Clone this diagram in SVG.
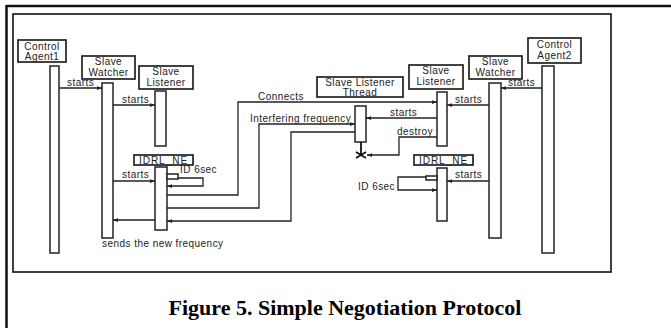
<svg xmlns="http://www.w3.org/2000/svg" width="671" height="328" viewBox="0 0 671 328">
  <style>
    .frame { fill: none; stroke: #111; }
    .box { fill: #fff; stroke: #222; stroke-width: 1.7; }
    .bar { fill: #fff; stroke: #222; stroke-width: 1.5; }
    .msg { fill: none; stroke: #222; stroke-width: 1.3; }
    .lbl { font-family: "Liberation Sans", Arial, sans-serif; font-size: 10px; letter-spacing: 0.45px; fill: #222; }
    .mid { text-anchor: middle; }
    .cap { font-family: "Liberation Serif", "Times New Roman", serif; font-size: 22px; font-weight: bold; fill: #000; text-anchor: middle; }
  </style>
  <defs>
    <marker id="arr" viewBox="0 0 8 6" refX="8" refY="3" markerWidth="5" markerHeight="4" orient="auto" markerUnits="userSpaceOnUse">
      <path d="M0,0 L8,3 L0,6 Z" fill="#222"/>
    </marker>
  </defs>

  <rect width="671" height="328" fill="#fff"/>

  <!-- page frame -->
  <path class="frame" d="M6.5,6 H671 M6.5,5 V328" stroke-width="2.5"/>
  <rect class="frame" x="13" y="14" width="598" height="258" stroke-width="1.6" stroke="#333"/>

  <!-- lifelines -->
  <g id="control-agent1">
    <rect class="box" x="18" y="40" width="48" height="22"/>
    <text class="lbl mid" x="42" y="50">Control</text>
    <text class="lbl mid" x="42" y="60">Agent1</text>
    <rect class="bar" x="50" y="66" width="9" height="187"/>
  </g>

  <g id="slave-watcher1">
    <rect class="box" x="82" y="56" width="53" height="23"/>
    <text class="lbl mid" x="108.5" y="65">Slave</text>
    <text class="lbl mid" x="108.5" y="76">Watcher</text>
    <rect class="bar" x="102" y="83" width="11" height="155"/>
  </g>

  <g id="slave-listener1">
    <rect class="box" x="139" y="66" width="54" height="23"/>
    <text class="lbl mid" x="166" y="75">Slave</text>
    <text class="lbl mid" x="166" y="86">Listener</text>
    <rect class="bar" x="155" y="91" width="11" height="55"/>
  </g>

  <g id="idrl-ne1">
    <rect class="box" x="134" y="155" width="59" height="10" stroke-width="1.5"/>
    <text class="lbl mid" x="163.5" y="164" style="letter-spacing:1px">IDRL_NE</text>
    <rect class="bar" x="155" y="167" width="12" height="63"/>
    <rect class="bar" x="167" y="174" width="11" height="5" stroke-width="1.2"/>
  </g>

  <g id="slave-listener-thread">
    <rect class="box" x="317" y="77" width="86" height="20"/>
    <text class="lbl mid" x="360" y="86">Slave Listener</text>
    <text class="lbl mid" x="360" y="95.5">Thread</text>
    <rect class="bar" x="355" y="106" width="11" height="36"/>
    <path d="M361,142 V155 M356,152 L366,158 M356,158 L366,152" fill="none" stroke="#111" stroke-width="1.8"/>
  </g>

  <g id="slave-listener2">
    <rect class="box" x="409" y="65" width="54" height="24"/>
    <text class="lbl mid" x="436" y="74">Slave</text>
    <text class="lbl mid" x="436" y="85">Listener</text>
    <rect class="bar" x="437" y="92" width="10" height="54"/>
  </g>

  <g id="idrl-ne2">
    <rect class="box" x="414" y="155" width="59" height="10" stroke-width="1.5"/>
    <text class="lbl mid" x="443.5" y="164" style="letter-spacing:1px">IDRL_NE</text>
    <rect class="bar" x="437" y="168" width="10" height="53"/>
    <rect class="bar" x="426" y="176" width="11" height="4" stroke-width="1.2"/>
  </g>

  <g id="slave-watcher2">
    <rect class="box" x="469" y="56" width="53" height="23"/>
    <text class="lbl mid" x="495.5" y="65">Slave</text>
    <text class="lbl mid" x="495.5" y="76">Watcher</text>
    <rect class="bar" x="489" y="83" width="12" height="155"/>
  </g>

  <g id="control-agent2">
    <rect class="box" x="528" y="38" width="53" height="25"/>
    <text class="lbl mid" x="554.5" y="48">Control</text>
    <text class="lbl mid" x="554.5" y="59">Agent2</text>
    <rect class="bar" x="542" y="66" width="12" height="187"/>
  </g>

  <!-- messages -->
  <g id="connectors">
    <path class="msg" d="M59,88 H102" marker-end="url(#arr)"/>
    <path class="msg" d="M113,105 H155" marker-end="url(#arr)"/>
    <path class="msg" d="M113,181 H155" marker-end="url(#arr)"/>
    <path class="msg" d="M178,178 H203 V186 H167" marker-end="url(#arr)"/>
    <path class="msg" d="M167,195 H238 V102 H437" marker-end="url(#arr)"/>
    <path class="msg" d="M167,208 H259 V124 H355" marker-end="url(#arr)" stroke-width="1.8"/>
    <path class="msg" d="M355,132 H291 V221 H167" marker-end="url(#arr)"/>
    <path class="msg" d="M155,220 H113" marker-end="url(#arr)"/>
    <path class="msg" d="M437,118 H366" marker-end="url(#arr)"/>
    <path class="msg" d="M437,137 H399 V155 H367" marker-end="url(#arr)"/>
    <path class="msg" d="M542,88 H501" marker-end="url(#arr)"/>
    <path class="msg" d="M489,105 H447" marker-end="url(#arr)"/>
    <path class="msg" d="M489,181 H447" marker-end="url(#arr)"/>
    <path class="msg" d="M426,177 H398 V190 H437" marker-end="url(#arr)"/>

    <text class="lbl" x="67" y="86">starts</text>
    <text class="lbl" x="122" y="103">starts</text>
    <text class="lbl" x="122" y="178">starts</text>
    <text class="lbl" x="180" y="173">ID 6sec</text>
    <text class="lbl" x="258" y="100">Connects</text>
    <text class="lbl" x="250" y="122">Interfering frequency</text>
    <text class="lbl" x="102" y="247">sends the new frequency</text>
    <text class="lbl" x="390" y="116">starts</text>
    <text class="lbl" x="397" y="135">destroy</text>
    <text class="lbl" x="508" y="86">starts</text>
    <text class="lbl" x="455" y="103">starts</text>
    <text class="lbl" x="455" y="178">starts</text>
    <text class="lbl" x="358" y="190">ID 6sec</text>
  </g>

  <text class="cap" x="345" y="315">Figure 5. Simple Negotiation Protocol</text>
</svg>
